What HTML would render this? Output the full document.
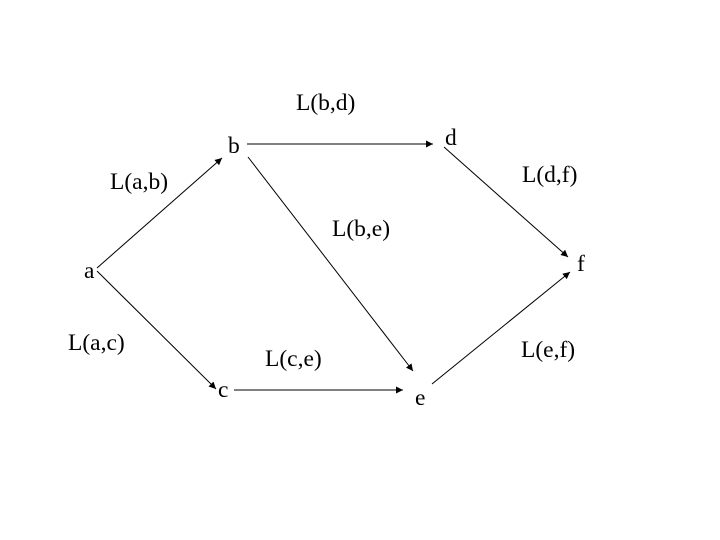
<!DOCTYPE html>
<html><head><style>
html,body{margin:0;padding:0;background:#fff;}
svg{display:block;}
text{font-family:"Liberation Serif",serif;font-size:23.5px;fill:#000;}
</style></head><body>
<svg width="720" height="540" viewBox="0 0 720 540" xmlns="http://www.w3.org/2000/svg">
<defs><marker id="ar" viewBox="0 0 10 10" refX="10" refY="5" markerWidth="9" markerHeight="7" markerUnits="userSpaceOnUse" orient="auto"><path d="M0,0 L10,5 L0,10 z" fill="#000"/></marker></defs>
<g stroke="#000" stroke-width="1" fill="none" marker-end="url(#ar)">
<line x1="97" y1="268" x2="222" y2="158"/>
<line x1="247" y1="144" x2="433" y2="144"/>
<line x1="248" y1="157" x2="413" y2="371"/>
<line x1="97" y1="271" x2="216" y2="389"/>
<line x1="234" y1="390" x2="403" y2="390"/>
<line x1="432" y1="384" x2="570" y2="272"/>
<line x1="444" y1="147" x2="568" y2="257"/>
</g>
<text x="296" y="110">L(b,d)</text>
<text x="228" y="153">b</text>
<text x="445" y="145">d</text>
<text x="110" y="189">L(a,b)</text>
<text x="522" y="182">L(d,f)</text>
<text x="332" y="236">L(b,e)</text>
<text x="84" y="278">a</text>
<text x="577" y="271">f</text>
<text x="68" y="350">L(a,c)</text>
<text x="265" y="366">L(c,e)</text>
<text x="521" y="357">L(e,f)</text>
<text x="218" y="397">c</text>
<text x="415" y="405">e</text>
</svg>
</body></html>
